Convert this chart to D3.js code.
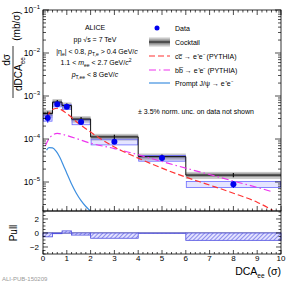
<!DOCTYPE html>
<html>
<head>
<meta charset="utf-8">
<script src="https://cdn.jsdelivr.net/npm/d3@7"></script>
<style>
  body { margin: 0; background: #fff; }
  svg text { font-family: 'Liberation Sans', Arial, sans-serif; }
</style>
</head>
<body>
<div id="graph"></div>
<script>
// The data...
var binEdges   = [ 0, 0.4, 0.8, 1.2, 2, 4, 6, 10 ];
var dataVals   = [ 3.1e-4, 6.4e-4, 5.6e-4, 2.5e-4, 8.6e-5, 3.6e-5, 8.9e-6 ];
var dataStat   = [ 0.7e-4, 0.6e-4, 0.5e-4, 0.2e-4, 0.9e-5, 0.5e-5, 1.6e-6 ];
var dataSyst   = [ 0.5e-4, 0.8e-4, 0.7e-4, 0.35e-4, 1.3e-5, 0.55e-5, 1.4e-6 ];

var cocktail      = [ 3.9e-4, 7.2e-4, 6.0e-4, 2.9e-4, 1.12e-4, 3.9e-5, 1.45e-5 ];
var cocktailInner = [ 0.4e-4, 0.65e-4, 0.55e-4, 0.25e-4, 1.0e-5, 0.35e-5, 1.3e-6 ];
var cocktailOuter = [ 0.8e-4, 1.3e-4, 1.1e-4, 0.5e-4, 2.0e-5, 0.7e-5, 2.7e-6 ];

var pullVals = [ -0.55, -0.1, 0.3, -0.3, -0.75, -0.05, -1.05 ];

var ccX = [ 0.15, 0.3, 0.45, 0.6, 0.8, 1.0, 1.5, 2, 3, 4, 5, 6, 7, 8, 9, 9.65 ];
var ccY = [ 3.3e-4, 4.3e-4, 5.0e-4, 5.2e-4, 4.7e-4, 3.9e-4, 2.3e-4, 1.45e-4, 6.5e-5, 3.6e-5, 2.1e-5, 1.3e-5, 8.5e-6, 5.5e-6, 3.4e-6, 2.2e-6 ];

var bbX = [ 0.1, 0.3, 0.6, 1.0, 2, 3, 4, 5, 6, 7, 8, 9, 9.6 ];
var bbY = [ 7e-5, 1.1e-4, 1.35e-4, 1.2e-4, 8e-5, 6e-5, 4.3e-5, 3e-5, 2.1e-5, 1.5e-5, 1.05e-5, 7.5e-6, 6e-6 ];

var jpX = [ 0.15, 0.25, 0.4, 0.55, 0.7, 0.85, 1.0, 1.2, 1.4, 1.6, 1.8, 2.0 ];
var jpY = [ 5.5e-5, 6.3e-5, 6.2e-5, 5.2e-5, 3.8e-5, 2.5e-5, 1.6e-5, 9e-6, 5.5e-6, 3.7e-6, 2.7e-6, 2.1e-6 ];

var yTickExps   = [ -5, -4, -3, -2, -1 ];
var xTickLabels = [ 0, 1, 2, 3, 4, 5, 6, 7, 8, 9, 10 ];
var pullTicks   = [ -2, 0, 2 ];

var legendLabels = [ 'Data', 'Cocktail', 'cc\u0305 \u2192 e\u207Ae\u207B (PYTHIA)',
                     'bb\u0305 \u2192 e\u207Ae\u207B (PYTHIA)', 'Prompt J/\u03C8 \u2192 e\u207Ae\u207B' ];

var colData = '#0000ee', colCC = '#ff3333', colBB = '#ee33ee', colJP = '#3d8fe0';

var width = 290, height = 299;
var plotL = 43, plotR = 281, plotT = 10, plotB = 211, pullB = 254;

var svg = d3.select('#graph').append('svg')
            .attr('width', width).attr('height', height);

var defs = svg.append('defs');
var pat = defs.append('pattern')
              .attr('id', 'hatch').attr('patternUnits', 'userSpaceOnUse')
              .attr('width', 3).attr('height', 3)
              .attr('patternTransform', 'rotate(45)');
pat.append('rect').attr('width', 3).attr('height', 3).attr('fill', '#e2e2ff');
pat.append('line').attr('x1', 0).attr('y1', 0).attr('x2', 0).attr('y2', 3)
   .attr('stroke', '#4444dd').attr('stroke-width', 1.1);

defs.append('clipPath').attr('id', 'clipMain').append('rect')
    .attr('x', plotL).attr('y', plotT).attr('width', plotR - plotL).attr('height', plotB - plotT);

var xScale = d3.scaleLinear().domain([ 0, 10 ]).range([ plotL, plotR ]);
var yScale = d3.scaleLog().domain([ 2.12e-6, 0.1 ]).range([ plotB, plotT ]);
var pScale = d3.scaleLinear().domain([ -3, 3.14 ]).range([ pullB, plotB ]);

var main = svg.append('g').attr('clip-path', 'url(#clipMain)');

// cocktail bands
for (var i = 0; i < cocktail.length; i++)
{
    var x0 = xScale(binEdges[i]), x1 = xScale(binEdges[i + 1]);
    main.append('rect')
        .attr('x', x0).attr('width', x1 - x0)
        .attr('y', yScale(cocktail[i] + cocktailOuter[i]))
        .attr('height', yScale(cocktail[i] - cocktailOuter[i]) - yScale(cocktail[i] + cocktailOuter[i]))
        .attr('fill', '#c8c8c8');
    main.append('rect')
        .attr('x', x0).attr('width', x1 - x0)
        .attr('y', yScale(cocktail[i] + cocktailInner[i]))
        .attr('height', yScale(cocktail[i] - cocktailInner[i]) - yScale(cocktail[i] + cocktailInner[i]))
        .attr('fill', '#8e8e8e');
}

// data syst boxes
for (var i = 0; i < dataVals.length; i++)
{
    var x0 = xScale(binEdges[i]), x1 = xScale(binEdges[i + 1]);
    main.append('rect')
        .attr('x', x0 + 0.5).attr('width', x1 - x0 - 1)
        .attr('y', yScale(dataVals[i] + dataSyst[i]))
        .attr('height', yScale(dataVals[i] - dataSyst[i]) - yScale(dataVals[i] + dataSyst[i]))
        .attr('fill', 'rgba(110,110,255,0.18)')
        .attr('stroke', '#6a6aff').attr('stroke-width', 0.8);
}

// cocktail step line
var stepPts = [];
for (var i = 0; i < cocktail.length; i++)
{
    stepPts.push([ xScale(binEdges[i]), yScale(cocktail[i]) ]);
    stepPts.push([ xScale(binEdges[i + 1]), yScale(cocktail[i]) ]);
}
main.append('path').attr('d', d3.line()(stepPts))
    .attr('fill', 'none').attr('stroke', '#111').attr('stroke-width', 1);

// cocktail stat bars
for (var i = 0; i < cocktail.length; i++)
{
    var xc = xScale((binEdges[i] + binEdges[i + 1]) / 2);
    main.append('line').attr('x1', xc).attr('x2', xc)
        .attr('y1', yScale(cocktail[i] * 1.12)).attr('y2', yScale(cocktail[i] / 1.12))
        .attr('stroke', '#111').attr('stroke-width', 1.2);
}

// curves
var curveLine = function (xs, ys)
{
    var pts = xs.map(function (d, i) { return [ d, ys[i] ]; });
    return d3.line()
             .x(function (d) { return xScale(d[0]); })
             .y(function (d) { return yScale(d[1]); })
             .curve(d3.curveMonotoneX)(pts);
};

main.append('path').attr('d', curveLine(jpX, jpY))
    .attr('fill', 'none').attr('stroke', colJP).attr('stroke-width', 1.2);
main.append('path').attr('d', curveLine(bbX, bbY))
    .attr('fill', 'none').attr('stroke', colBB).attr('stroke-width', 1.2)
    .attr('stroke-dasharray', '7,3,1.5,3');
main.append('path').attr('d', curveLine(ccX, ccY))
    .attr('fill', 'none').attr('stroke', colCC).attr('stroke-width', 1.2)
    .attr('stroke-dasharray', '6,3');

// data points
for (var i = 0; i < dataVals.length; i++)
{
    var xc = xScale((binEdges[i] + binEdges[i + 1]) / 2);
    main.append('line').attr('x1', xc).attr('x2', xc)
        .attr('y1', yScale(dataVals[i] + dataStat[i])).attr('y2', yScale(dataVals[i] - dataStat[i]))
        .attr('stroke', colData).attr('stroke-width', 1);
    main.append('circle').attr('cx', xc).attr('cy', yScale(dataVals[i]))
        .attr('r', 3).attr('fill', colData);
}

// pull panel
var pull = svg.append('g');
pull.append('line').attr('x1', plotL).attr('x2', plotR)
    .attr('y1', pScale(0)).attr('y2', pScale(0))
    .attr('stroke', '#333366').attr('stroke-width', 0.8);
for (var i = 0; i < pullVals.length; i++)
{
    var x0 = xScale(binEdges[i]), x1 = xScale(binEdges[i + 1]);
    var yTop = Math.min(pScale(0), pScale(pullVals[i]));
    var h = Math.abs(pScale(pullVals[i]) - pScale(0));
    pull.append('rect').attr('x', x0).attr('width', x1 - x0)
        .attr('y', yTop).attr('height', h)
        .attr('fill', 'url(#hatch)').attr('stroke', '#5050e0').attr('stroke-width', 0.8);
}

// frames
svg.append('rect').attr('x', plotL).attr('y', plotT).attr('width', plotR - plotL).attr('height', plotB - plotT)
   .attr('fill', 'none').attr('stroke', '#000').attr('stroke-width', 0.8);
svg.append('rect').attr('x', plotL).attr('y', plotB).attr('width', plotR - plotL).attr('height', pullB - plotB)
   .attr('fill', 'none').attr('stroke', '#000').attr('stroke-width', 0.8);

// x ticks (both panels, top and bottom)
var ticksG = svg.append('g').attr('stroke', '#000').attr('stroke-width', 0.7);
for (var t = 0; t <= 50; t++)
{
    var xv = t * 0.2;
    var xp = xScale(xv);
    var len = (t % 5 == 0) ? 5 : 2.5;
    ticksG.append('line').attr('x1', xp).attr('x2', xp).attr('y1', plotB).attr('y2', plotB - len);
    ticksG.append('line').attr('x1', xp).attr('x2', xp).attr('y1', plotT).attr('y2', plotT + len);
    ticksG.append('line').attr('x1', xp).attr('x2', xp).attr('y1', pullB).attr('y2', pullB - len * 0.8);
}

// y log ticks
for (var e = -6; e <= -1; e++)
{
    for (var m = 1; m <= 9; m++)
    {
        var v = m * Math.pow(10, e);
        if (v < yScale.domain()[0] || v > 0.1 + 1e-9) continue;
        var yp = yScale(v);
        var len = (m == 1) ? 6 : 3;
        ticksG.append('line').attr('x1', plotL).attr('x2', plotL + len).attr('y1', yp).attr('y2', yp);
        ticksG.append('line').attr('x1', plotR).attr('x2', plotR - len).attr('y1', yp).attr('y2', yp);
    }
}

// pull ticks
for (var p = -3; p <= 3; p += 0.5)
{
    var yp = pScale(p);
    var len = (p % 2 == 0) ? 5 : 2.5;
    ticksG.append('line').attr('x1', plotL).attr('x2', plotL + len).attr('y1', yp).attr('y2', yp);
    ticksG.append('line').attr('x1', plotR).attr('x2', plotR - len).attr('y1', yp).attr('y2', yp);
}

// y tick labels
yTickExps.forEach(function (e)
{
    var t = svg.append('text').attr('x', plotL - 3).attr('y', yScale(Math.pow(10, e)) + 3)
               .attr('text-anchor', 'end').attr('font-size', '8.5px').attr('fill', '#000');
    t.append('tspan').text('10');
    t.append('tspan').attr('dy', -4).attr('font-size', '6px').text('\u2212' + (-e));
});

pullTicks.forEach(function (p)
{
    svg.append('text').attr('x', plotL - 4).attr('y', pScale(p) + 3)
       .attr('text-anchor', 'end').attr('font-size', '8px')
       .text(p < 0 ? '\u2212' + (-p) : p);
});

xTickLabels.forEach(function (d)
{
    svg.append('text').attr('x', xScale(d)).attr('y', pullB + 7)
       .attr('text-anchor', 'middle').attr('font-size', '8px').text(d);
});

// axis titles
var xt = svg.append('text').attr('x', plotR).attr('y', 275).attr('text-anchor', 'end').attr('font-size', '10.5px');
xt.append('tspan').text('DCA');
xt.append('tspan').attr('dy', 2.5).attr('font-size', '6.5px').text('ee');
xt.append('tspan').attr('dy', -2.5).text(' (\u03C3)');

var yt = svg.append('g').attr('transform', 'translate(0,0) rotate(-90)');
yt.append('text').attr('x', -60).attr('y', 10).attr('text-anchor', 'middle').attr('font-size', '10px').text('d\u03C3');
yt.append('line').attr('x1', -98).attr('x2', -46).attr('y1', 13).attr('y2', 13).attr('stroke', '#000').attr('stroke-width', 0.8);
var den = yt.append('text').attr('x', -74).attr('y', 22).attr('text-anchor', 'middle').attr('font-size', '10px');
den.append('tspan').text('dDCA');
den.append('tspan').attr('dy', 2.5).attr('font-size', '6.5px').text('ee');
yt.append('text').attr('x', -26).attr('y', 20).attr('text-anchor', 'middle').attr('font-size', '10px').text('(mb/\u03C3)');

svg.append('text').attr('transform', 'translate(17,' + pScale(0) + ') rotate(-90)')
   .attr('text-anchor', 'middle').attr('font-size', '10px').text('Pull');

// ALICE text block
var info = svg.append('g').attr('font-size', '7px').attr('text-anchor', 'middle');
info.append('text').attr('x', 95).attr('y', 30).text('ALICE');
var l2 = info.append('text').attr('x', 95).attr('y', 42);
l2.append('tspan').text('pp \u221As = 7 TeV');
var l3 = info.append('text').attr('x', 97).attr('y', 54);
l3.append('tspan').text('|\u03B7');
l3.append('tspan').attr('dy', 1.5).attr('font-size', '5px').text('e');
l3.append('tspan').attr('dy', -1.5).text('| < 0.8, ');
l3.append('tspan').attr('font-style', 'italic').text('p');
l3.append('tspan').attr('dy', 1.5).attr('font-size', '5px').text('T,e');
l3.append('tspan').attr('dy', -1.5).text(' > 0.4 GeV/');
l3.append('tspan').attr('font-style', 'italic').text('c');
var l4 = info.append('text').attr('x', 96).attr('y', 65);
l4.append('tspan').text('1.1 < ');
l4.append('tspan').attr('font-style', 'italic').text('m');
l4.append('tspan').attr('dy', 1.5).attr('font-size', '5px').text('ee');
l4.append('tspan').attr('dy', -1.5).text(' < 2.7 GeV/');
l4.append('tspan').attr('font-style', 'italic').text('c');
l4.append('tspan').attr('dy', -3).attr('font-size', '5px').text('2');
var l5 = info.append('text').attr('x', 95).attr('y', 77);
l5.append('tspan').attr('font-style', 'italic').text('p');
l5.append('tspan').attr('dy', 1.5).attr('font-size', '5px').text('T,ee');
l5.append('tspan').attr('dy', -1.5).text(' < 8 GeV/');
l5.append('tspan').attr('font-style', 'italic').text('c');

// legend
var legY = [ 28, 42, 56, 70, 83 ];
var leg = svg.append('g');
legendLabels.forEach(function (d, i)
{
    leg.append('text').attr('x', 175).attr('y', legY[i] + 2.5).attr('font-size', '7px').text(d);
});
leg.append('circle').attr('cx', 157).attr('cy', legY[0]).attr('r', 2.5).attr('fill', colData);
leg.append('rect').attr('x', 149).attr('y', legY[1] - 4.5).attr('width', 21).attr('height', 9).attr('fill', '#c8c8c8');
leg.append('rect').attr('x', 149).attr('y', legY[1] - 2.5).attr('width', 21).attr('height', 5).attr('fill', '#8e8e8e');
leg.append('line').attr('x1', 149).attr('x2', 170).attr('y1', legY[1]).attr('y2', legY[1]).attr('stroke', '#111').attr('stroke-width', 1);
leg.append('line').attr('x1', 149).attr('x2', 170).attr('y1', legY[2]).attr('y2', legY[2])
   .attr('stroke', colCC).attr('stroke-width', 1.2).attr('stroke-dasharray', '6,3');
leg.append('line').attr('x1', 149).attr('x2', 170).attr('y1', legY[3]).attr('y2', legY[3])
   .attr('stroke', colBB).attr('stroke-width', 1.2).attr('stroke-dasharray', '7,3,1.5,3');
leg.append('line').attr('x1', 149).attr('x2', 170).attr('y1', legY[4]).attr('y2', legY[4])
   .attr('stroke', colJP).attr('stroke-width', 1.2);

svg.append('text').attr('x', 196).attr('y', 114).attr('text-anchor', 'middle').attr('font-size', '7px')
   .text('\u00B1 3.5% norm. unc. on data not shown');

svg.append('text').attr('x', 2).attr('y', 281).attr('font-size', '6px')
   .attr('font-family', "'DejaVu Sans Mono', monospace").attr('fill', '#999')
   .text('ALI-PUB-150209');
</script>
</body>
</html>
